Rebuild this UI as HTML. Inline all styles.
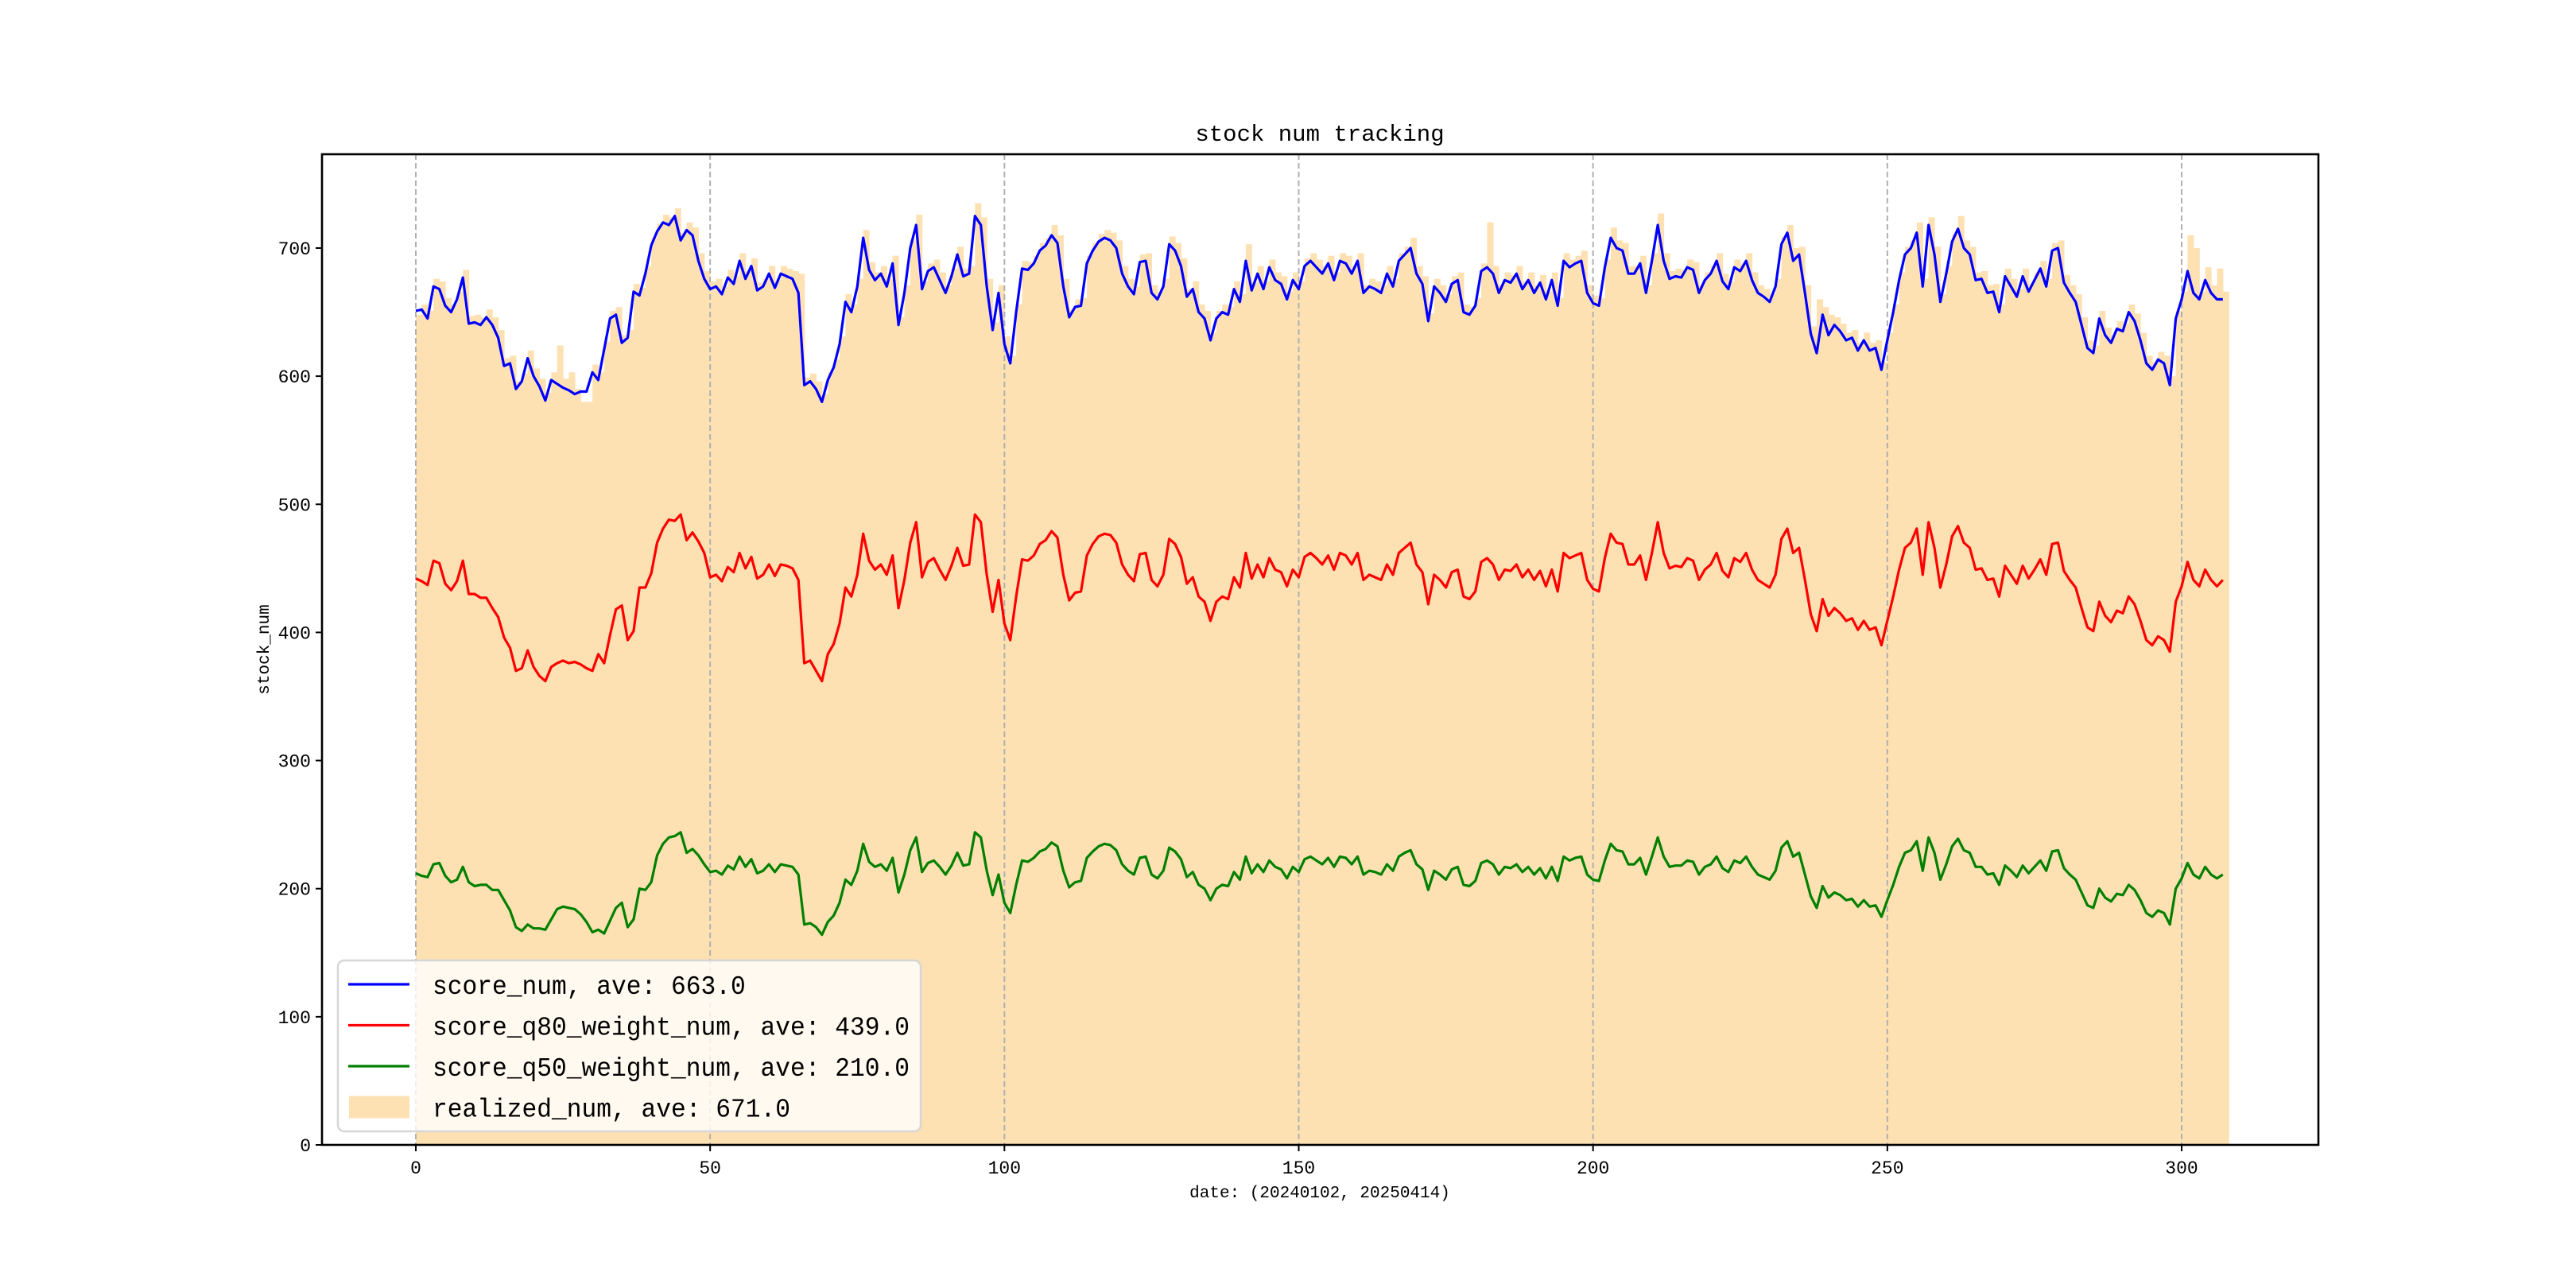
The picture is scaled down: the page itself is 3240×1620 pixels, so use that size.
<!DOCTYPE html>
<html><head><meta charset="utf-8"><title>stock num tracking</title>
<style>
html,body{margin:0;padding:0;background:#fff;}
svg{display:block;}
text{font-family:"Liberation Mono","Noto Sans CJK SC",monospace;fill:#000;}
</style></head>
<body>
<svg id="chart" width="3240" height="1620" viewBox="0 0 3240 1620" xmlns="http://www.w3.org/2000/svg">
<rect x="0" y="0" width="3240" height="1620" fill="#fff"/>
<g id="bars"></g>
<g id="grid"></g>
<g id="lines"></g>
<g id="axes"></g>
<text x="1660" y="177" font-size="29" text-anchor="middle">stock num tracking</text>
<text x="1660" y="1506" font-size="21" text-anchor="middle">date: (20240102, 20250414)</text>
<text x="338" y="817" font-size="21" text-anchor="middle" transform="rotate(-90 338 817)">stock_num</text>
<g id="legend"></g>
</svg>
<script>
const xTicks=[0,50,100,150,200,250,300];
const yTicks=[0,100,200,300,400,500,600,700];
const scoreNum=[651,652,645,670,668,655,650,660,677,641,642,640,646,640,630,608,610,590,596,614,600,592,581,597,594,591,589,586,588,588,603,597,621,645,648,626,630,666,663,680,702,713,720,718,725,706,714,710,690,676,
668,670,664,677,672,690,676,686,667,670,680,669,680,678,676,665,593,596,590,580,597,607,625,658,650,670,708,683,675,680,670,688,640,665,700,718,668,682,685,675,665,678,695,678,680,725,718,670,636,665,
625,610,650,684,683,688,698,702,710,704,670,646,654,655,688,698,705,708,706,700,680,670,664,689,690,665,660,670,703,698,686,662,668,650,645,628,645,650,648,668,658,690,667,680,668,685,675,672,660,675,
668,686,690,685,680,688,675,690,688,680,690,665,670,668,665,680,670,690,695,700,680,672,643,670,665,658,672,675,650,648,655,682,685,680,665,675,673,680,668,675,665,673,660,675,655,690,685,688,690,665,
657,655,685,708,700,698,680,680,688,665,690,718,690,676,678,677,685,683,665,675,680,690,674,668,685,682,690,675,665,662,658,670,703,712,690,695,665,633,618,648,632,640,635,628,630,620,628,620,622,605,
628,650,675,695,700,712,670,718,695,658,680,705,715,700,695,675,676,665,666,650,678,670,662,678,666,675,684,670,698,700,673,665,658,640,622,618,645,632,626,637,635,650,643,628,610,605,613,610,593,645,
660,682,665,660,675,665,660,660];
const q80Num=[442,440,437,456,454,438,433,440,456,430,430,427,427,419,412,396,388,370,372,386,373,366,362,373,376,378,376,377,375,372,370,383,376,398,418,421,394,401,435,435,446,470,481,488,487,492,472,478,471,462,
443,445,440,451,447,462,450,459,442,445,453,444,453,452,450,441,376,378,370,362,383,391,407,435,428,445,477,456,449,453,445,460,419,441,470,486,443,455,458,449,441,452,466,452,453,492,486,445,416,441,
407,394,428,457,456,460,469,472,479,474,445,425,431,432,460,469,475,477,476,470,453,445,440,461,462,441,436,445,473,469,459,438,443,428,424,409,424,428,426,443,435,462,442,453,443,458,449,447,436,449,
443,459,462,458,453,460,449,462,460,453,462,441,445,443,441,453,445,462,466,470,453,447,422,445,441,435,447,449,428,426,432,455,458,453,441,449,448,453,443,449,441,448,436,449,432,462,458,460,462,441,
434,432,458,477,470,469,453,453,460,441,462,486,462,450,452,451,458,456,441,449,453,462,448,443,458,455,462,449,441,438,435,445,473,481,462,466,441,414,401,426,413,419,415,409,411,402,409,402,404,390,
409,428,449,466,470,481,445,486,466,435,453,475,483,470,466,449,450,441,442,428,452,445,438,452,442,449,457,445,469,470,448,441,435,419,404,401,424,413,408,417,415,428,422,409,394,390,397,394,385,424,
436,455,441,436,449,441,436,441];
const q50Num=[212,210,209,219,220,210,205,207,217,205,202,203,203,199,199,191,183,170,167,172,169,169,168,176,184,186,185,184,180,174,166,168,165,175,185,189,170,176,200,199,205,226,235,240,241,244,228,231,226,219,
213,214,211,218,215,225,217,223,212,214,219,213,219,218,217,211,172,173,170,164,174,179,189,207,203,214,235,221,217,219,214,224,197,211,230,240,213,220,222,217,211,218,228,218,219,244,240,214,195,211,
189,181,203,222,221,224,229,231,236,233,214,201,205,206,224,229,233,235,234,230,219,214,211,224,225,211,208,214,232,229,223,209,213,203,200,191,200,203,202,213,207,225,212,219,213,222,217,215,208,217,
213,223,225,222,219,224,217,225,224,219,225,211,214,213,211,219,214,225,228,230,219,215,199,214,211,207,215,217,203,202,206,220,222,219,211,217,216,219,213,217,211,216,208,217,206,225,222,224,225,211,
207,206,222,235,230,229,219,219,224,211,225,240,225,217,218,218,222,221,211,217,219,225,216,213,222,220,225,217,211,209,207,214,232,237,225,228,211,194,185,202,193,197,195,191,192,186,191,186,187,178,
191,203,217,228,230,237,214,240,228,207,219,233,239,230,228,217,217,211,212,203,218,214,209,218,212,217,222,214,229,230,216,211,207,197,187,185,200,193,190,196,195,203,199,191,181,178,183,181,172,200,
208,220,211,208,217,211,208,211];
const realizedNum=[648,656,651,676,674,661,656,666,683,647,648,646,652,646,636,614,616,596,602,620,606,598,587,603,624,598,603,590,580,580,609,603,627,651,654,632,636,672,669,686,708,719,726,724,731,712,720,716,696,682,
674,676,670,683,678,696,682,692,673,676,686,675,686,684,682,680,599,602,596,586,603,613,631,664,656,676,714,689,681,686,676,694,646,671,706,726,674,688,691,681,671,684,701,684,686,735,724,676,642,671,
631,616,656,690,689,694,704,708,718,710,676,652,660,661,694,704,711,714,712,706,686,676,670,695,696,671,666,676,709,704,692,668,674,656,651,634,651,656,654,674,664,703,673,686,674,691,681,678,666,681,
674,692,696,691,686,694,681,696,694,686,696,671,676,674,671,686,676,696,701,708,686,678,649,676,671,664,678,681,656,654,661,688,720,686,671,681,679,686,674,681,671,679,666,681,661,696,691,694,698,671,
663,661,691,716,706,704,686,686,694,671,696,727,696,682,684,683,691,689,671,681,686,696,680,674,691,688,696,681,671,668,664,676,709,718,700,701,671,639,660,654,648,646,641,634,636,626,634,626,628,611,
634,656,681,701,706,720,676,724,701,664,686,711,725,706,701,681,682,671,672,656,684,676,668,684,672,681,690,676,704,706,679,671,664,646,628,624,651,638,632,643,641,656,649,634,616,611,619,616,600,651,
666,710,700,666,685,671,684,666];

const NS='http://www.w3.org/2000/svg';
const L=405,R=2916,T=194,B=1440;
function xs(v){return 523+v*(2744-523)/300;}
function ys(v){return B-v*(B-312)/700;}
function mk(tag,attrs,parent){const e=document.createElementNS(NS,tag);for(const k in attrs)e.setAttribute(k,attrs[k]);parent.appendChild(e);return e;}

// bars
const gb=document.getElementById('bars');
realizedNum.forEach((v,i)=>{
  const r=mk('rect',{x:xs(i),y:ys(v),width:xs(i+1)-xs(i)+0.6,height:B-ys(v),fill:'#fee1b3'},gb);
  
  
});
// grid
const gg=document.getElementById('grid');
xTicks.forEach(t=>{
  const l=mk('line',{x1:xs(t),x2:xs(t),y1:T,y2:B,stroke:'#b0b0b0','stroke-width':2,'stroke-dasharray':'7,4'},gg);
  
  
});
// lines
const gl=document.getElementById('lines');
[[scoreNum,'#0000ff','score-num-line'],[q80Num,'#ff0000','score-q80-line'],[q50Num,'#008000','score-q50-line']].forEach(([arr,c,n])=>{
  const p=mk('polyline',{points:arr.map((v,i)=>xs(i).toFixed(1)+','+ys(v).toFixed(1)).join(' '),fill:'none',stroke:c,'stroke-width':3.2,'stroke-linejoin':'round'},gl);
  
  
});
// axes
const ga=document.getElementById('axes');
const fr=mk('rect',{x:L,y:T,width:R-L,height:B-T,fill:'none',stroke:'#000','stroke-width':2.6},ga);


xTicks.forEach(t=>{
  mk('line',{x1:xs(t),x2:xs(t),y1:B,y2:B+8,stroke:'#000','stroke-width':2},ga);
  const tx=mk('text',{x:xs(t),y:B+36,'font-size':23,'text-anchor':'middle'},ga);
  tx.textContent=t;
  
  
});
yTicks.forEach(t=>{
  mk('line',{x1:L-8,x2:L,y1:ys(t),y2:ys(t),stroke:'#000','stroke-width':2},ga);
  const tx=mk('text',{x:L-14,y:ys(t)+8,'font-size':23,'text-anchor':'end'},ga);
  tx.textContent=t;
  
  
});
// legend
const lg=document.getElementById('legend');
const box=mk('rect',{x:425,y:1208,width:733,height:215,rx:8,fill:'rgba(255,255,255,0.8)',stroke:'#d6d6d6','stroke-width':2.5},lg);


const entries=[['#0000ff','score_num, ave: 663.0','line'],['#ff0000','score_q80_weight_num, ave: 439.0','line'],['#008000','score_q50_weight_num, ave: 210.0','line'],['#fee1b3','realized_num, ave: 671.0','patch']];
entries.forEach(([c,label,kind],k)=>{
  const cy=1238+k*51.5;
  if(kind==='line'){mk('line',{x1:438,x2:515,y1:cy,y2:cy,stroke:c,'stroke-width':3.2},lg);}
  else{mk('rect',{x:439,y:cy-14,width:76,height:28,fill:c},lg);}
  const tx=mk('text',{x:544,y:cy+12,'font-size':33,textLength:label.length*18.75,lengthAdjust:'spacingAndGlyphs'},lg);
  tx.textContent=label;
  
  
});
</script>
</body></html>
